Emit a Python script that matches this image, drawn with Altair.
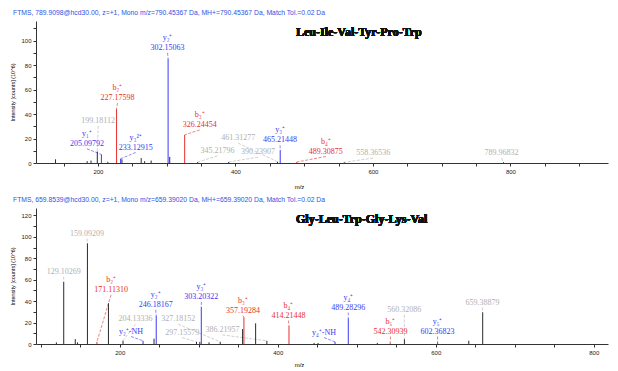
import altair as alt
import pandas as pd

# ---------------- top spectrum ----------------
TOP_HEADER = "FTMS, 789.9098@hcd30.00, z=+1, Mono m/z=790.45367 Da, MH+=790.45367 Da, Match Tol.=0.02 Da"
TOP_PEPTIDE = "Leu-Ile-Val-Tyr-Pro-Trp"
TOP_PEAK_MZ = [138.4, 184.4, 190.0, 199.18112, 205.09792, 214.5, 227.17598, 233.12915, 235.0, 263.0,
               268.0, 277.5, 302.15063, 304.5, 326.24454, 345.21796, 390.23907, 461.31277, 465.21448,
               489.30875, 558.36536, 789.96832]
TOP_PEAK_INT = [3, 1.5, 2, 9.3, 7, 1, 44, 3.5, 3, 4,
                1.5, 2, 85, 5, 23, 0.8, 0.8, 1, 10.5,
                0.8, 0.6, 0.6]
TOP_PEAK_ION = ['n', 'n', 'n', 'n', 'y', 'n', 'b', 'y', 'n', 'n',
                'n', 'n', 'y', 'n', 'b', 'n', 'n', 'n', 'y',
                'b', 'n', 'n']

TOP_LBL_NAME = ['y₂⁺', 'b₂⁺', '', 'y₁⁺', 'y₃²⁺', 'b₃⁺', '', '', '', 'y₃⁺', 'b₄⁺', '', '']
TOP_LBL_NUM = ['302.15063', '227.17598', '199.18112', '205.09792', '233.12915', '326.24454',
               '461.31277', '345.21796', '390.23907', '465.21448', '489.30875', '558.36536', '789.96832']
TOP_LBL_MZ = [301.4, 228.5, 200.4, 184, 255, 348, 404, 374, 433, 465, 531.6, 600.4, 787]
TOP_LBL_INT = [94, 53, 34.4, 15.6, 12.6, 31, 20.2, 9.8, 8.8, 18.5, 9.3, 8, 8]
TOP_LBL_ION = ['y', 'b', 'g', 'y', 'y', 'b', 'g', 'g', 'g', 'y', 'b', 'g', 'g']
TOP_LBL_PEAK_MZ = [302.15063, 227.17598, 199.18112, 205.09792, 233.12915, 326.24454, 461.31277,
                   345.21796, 390.23907, 465.21448, 489.30875, 558.36536, 789.96832]
TOP_LBL_PEAK_INT = [85, 44, 9.3, 7, 3.5, 23, 1, 0.8, 0.8, 10.5, 0.8, 0.6, 0.6]

# ---------------- bottom spectrum ----------------
BOT_HEADER = "FTMS, 659.8539@hcd30.00, z=+1, Mono m/z=659.39020 Da, MH+=659.39020 Da, Match Tol.=0.02 Da"
BOT_PEPTIDE = "Gly-Leu-Trp-Gly-Lys-Val"
BOT_PEAK_MZ = [119.8, 129.10269, 143.7, 146.5, 159.09209, 171.1131, 185.7, 204.13336, 229.5, 243.4,
               246.18167, 297.15579, 301.4, 303.20322, 313.0, 327.18152, 355.5, 357.19284, 372.0,
               386.21957, 414.21448, 446.0, 451.0, 472.5, 489.28296, 526.0, 542.30939, 560.32086,
               602.36823, 641.8, 659.38879]
BOT_PEAK_INT = [1.5, 58, 4.6, 1.5, 94, 2, 38, 3, 3, 5,
                26.4, 2, 2, 34.5, 1.5, 2, 14, 25, 19.3,
                3, 17, 1, 1, 2, 24, 1, 1, 4.5,
                1.5, 3, 29.6]
BOT_PEAK_ION = ['n', 'n', 'n', 'n', 'n', 'b', 'n', 'n', 'y', 'n',
                'y', 'n', 'n', 'y', 'n', 'n', 'n', 'b', 'n',
                'n', 'b', 'n', 'n', 'y', 'y', 'n', 'b', 'n',
                'y', 'n', 'n']

BOT_LBL_NAME = ['', '', 'b₂⁺', 'y₂⁺', 'y₃⁺', 'b₃⁺', 'b₄⁺', 'y₄⁺', '', '', 'b₅⁺', 'y₅⁺',
                '', '', '', '', '', '']
BOT_LBL_NUM = ['159.09209', '129.10269', '171.11310', '246.18167', '303.20322', '357.19284',
               '414.21448', '489.28296', '560.32086', '659.38879', '542.30939', '602.36823',
               'y₂⁺-NH', 'y₄⁺-NH', '204.13336', '327.18152', '297.15579', '386.21957']
BOT_LBL_MZ = [158.6, 129, 189, 245.5, 303.3, 356, 413.5, 489.3, 560.2, 659, 542.7, 602.3,
              214.3, 458.5, 220, 274, 279, 330]
BOT_LBL_INT = [103, 67.4, 50.4, 36.4, 43.8, 31, 26.4, 33.9, 31.7, 38.5, 11.5, 11.5,
               11.5, 10.5, 23, 23, 10.5, 13]
BOT_LBL_ION = ['g', 'g', 'b', 'y', 'y', 'b', 'b', 'y', 'g', 'g', 'b', 'y',
               'y', 'y', 'g', 'g', 'g', 'g']
BOT_LBL_PEAK_MZ = [159.09209, 129.10269, 171.1131, 246.18167, 303.20322, 357.19284, 414.21448,
                   489.28296, 560.32086, 659.38879, 542.30939, 602.36823, 229.5, 472.5,
                   204.13336, 327.18152, 297.15579, 386.21957]
BOT_LBL_PEAK_INT = [94, 58, 2, 26.4, 34.5, 25, 17, 24, 4.5, 29.6, 1, 1.5, 3, 2, 3, 2, 2, 3]

RED = "#e8302c"
BLUE = "#3a3af2"
GREY = "#b0b0b0"
BLACK = "#2a2a2a"
HEADER_BLUE = "#3052e6"

color_scale = alt.Scale(domain=['b', 'y', 'n', 'g'], range=[RED, BLUE, BLACK, GREY])


def panel(header, peptide, pk_mz, pk_int, pk_ion, l_name, l_num, l_mz, l_int, l_ion,
          l_pmz, l_pint, xdom, xticks, ydom, yticks, w, h, label_gap, title_y):
    peaks = pd.DataFrame({"mz": pk_mz, "intensity": pk_int, "ion": pk_ion})
    labels = pd.DataFrame({"name": l_name, "num": l_num, "lmz": l_mz, "lint": l_int,
                           "ion": l_ion, "pmz": l_pmz, "pint": l_pint})
    labels["cint"] = labels["lint"] - label_gap

    xs = alt.Scale(domain=xdom, nice=False, zero=False)
    ys = alt.Scale(domain=ydom, nice=False, zero=True)

    xaxis = alt.Axis(values=xticks, labelExpr="datum.value % 200 == 0 ? datum.label : ''",
                     labelOverlap=False, labelFlush=False,
                     grid=False, tickSize=3, labelFontSize=6, labelFont="Liberation Sans",
                     title="m/z", titleFontSize=6, titleFontWeight="normal",
                     titleFont="Liberation Sans", titleX=263, titleY=title_y,
                     domainColor="#333", tickColor="#333", labelColor="#222", labelPadding=2)
    yaxis = alt.Axis(values=yticks, labelExpr="datum.value % 20 == 0 ? datum.label : ''",
                     labelOverlap=False, labelFlush=False,
                     grid=False, tickSize=3, labelFontSize=6, labelFont="Liberation Sans",
                     title="Intensity [counts] (10^6)", titleFontSize=5.5,
                     titleFontWeight="normal", titleFont="Liberation Sans",
                     domainColor="#333", tickColor="#333", labelColor="#222", titlePadding=5)

    def X(f):
        return alt.X(f, type="quantitative", scale=xs, axis=xaxis)

    def Y(f):
        return alt.Y(f, type="quantitative", scale=ys, axis=yaxis)

    col = alt.Color("ion:N", scale=color_scale, legend=None)

    bars = alt.Chart(peaks).mark_rule(strokeWidth=1).encode(
        x=X("mz"), y=Y("intensity"), y2=alt.datum(0), color=col,
    )
    conn = alt.Chart(labels).mark_rule(strokeWidth=0.6, strokeDash=[3, 1.5]).encode(
        x=X("lmz"), y=Y("cint"), x2="pmz:Q", y2="pint:Q", color=col,
    )
    nums = alt.Chart(labels).mark_text(font="Liberation Serif", fontSize=8, baseline="middle").encode(
        x=X("lmz"), y=Y("lint"), text="num:N", color=col,
    )
    names = alt.Chart(labels).mark_text(font="Liberation Serif", fontSize=8, baseline="middle",
                                        dy=-10).encode(
        x=X("lmz"), y=Y("lint"), text="name:N", color=col,
    )
    pep = alt.Chart(labels).mark_text(font="Liberation Serif", fontSize=12, fontWeight="bold",
                                      align="left", baseline="middle", color="#111").encode(
        x=alt.value(260), y=alt.value(11), text=alt.value(peptide)
    )
    return alt.layer(conn, bars, nums, names, pep).properties(
        width=w, height=h,
        title=alt.TitleParams(text=header, anchor="start", frame="bounds", fontSize=6.8,
                              font="Liberation Sans", fontWeight="normal", color=HEADER_BLUE,
                              offset=4, dx=2),
    )


top = panel(TOP_HEADER, TOP_PEPTIDE, TOP_PEAK_MZ, TOP_PEAK_INT, TOP_PEAK_ION,
            TOP_LBL_NAME, TOP_LBL_NUM, TOP_LBL_MZ, TOP_LBL_INT, TOP_LBL_ION,
            TOP_LBL_PEAK_MZ, TOP_LBL_PEAK_INT,
            [110, 942], list(range(150, 950, 50)), [0, 116], list(range(0, 120, 10)),
            572, 142, 4, 20)
bot = panel(BOT_HEADER, BOT_PEPTIDE, BOT_PEAK_MZ, BOT_PEAK_INT, BOT_PEAK_ION,
            BOT_LBL_NAME, BOT_LBL_NUM, BOT_LBL_MZ, BOT_LBL_INT, BOT_LBL_ION,
            BOT_LBL_PEAK_MZ, BOT_LBL_PEAK_INT,
            [94, 818], list(range(100, 850, 50)), [0, 127], list(range(0, 130, 10)),
            572, 136, 4.5, 17)

chart = alt.vconcat(top, bot, spacing=8).properties(
    padding={"left": 2, "top": 2, "right": 2, "bottom": 0}
).configure_view(stroke=None)

chart.save("out.html", embed_options={"renderer": "svg", "actions": False})
